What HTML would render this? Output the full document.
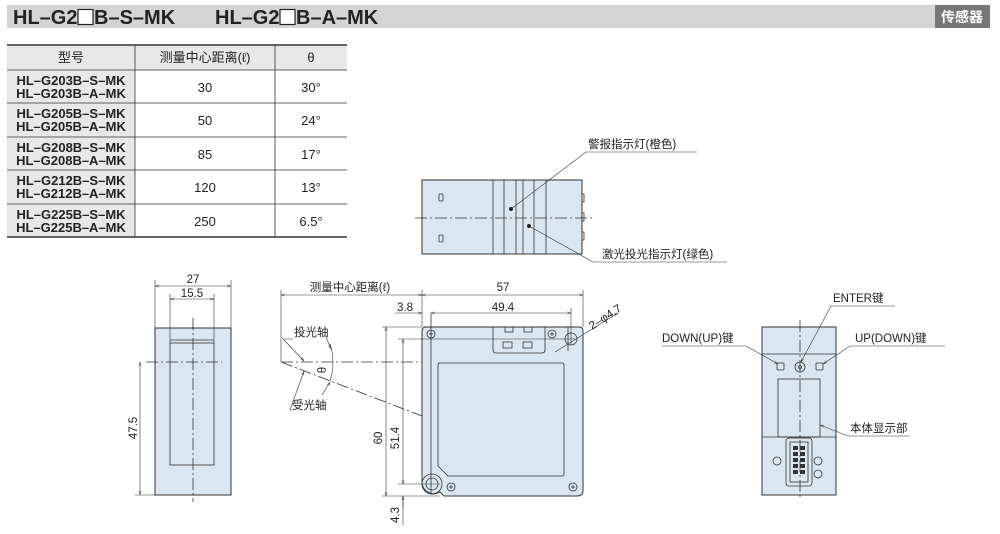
<!DOCTYPE html>
<html><head><meta charset="utf-8"><style>
body{margin:0;background:#fff;}
svg{display:block;font-family:"Liberation Sans","Noto Sans CJK SC",sans-serif;}
.t{font-size:11.5px;fill:#222;}
.b{fill:#dbe7f0;stroke:#333;stroke-width:1;}
.l{stroke:#333;stroke-width:0.8;fill:none;}
.d{stroke:#333;stroke-width:0.8;fill:none;stroke-dasharray:12 3 2 3;}
.dm{stroke:#333;stroke-width:0.6;fill:none;}
</style></head><body>
<svg width="1000" height="534" viewBox="0 0 1000 534" xmlns="http://www.w3.org/2000/svg">
<defs>
<marker id="a" viewBox="0 0 10 10" refX="10" refY="5" markerWidth="7" markerHeight="7" orient="auto-start-reverse"><path d="M0,2 L10,5 L0,8" fill="none" stroke="#333" stroke-width="1"/></marker>
</defs>
<!-- header -->
<rect x="7" y="5" width="928" height="23" fill="#d4d4d4"/>
<rect x="935" y="5" width="55" height="23" fill="#777"/>
<text x="13" y="24" font-size="20" font-weight="bold" fill="#222">HL–G2</text>
<rect x="78" y="9.5" width="15" height="15" fill="#fff" stroke="#222" stroke-width="1.2"/>
<text x="94" y="24" font-size="20" font-weight="bold" fill="#222">B–S–MK</text>
<text x="215" y="24" font-size="20" font-weight="bold" fill="#222">HL–G2</text>
<rect x="280" y="9.5" width="15" height="15" fill="#fff" stroke="#222" stroke-width="1.2"/>
<text x="296" y="24" font-size="20" font-weight="bold" fill="#222">B–A–MK</text>
<text x="962" y="22" font-size="14" font-weight="bold" fill="#fff" text-anchor="middle">传感器</text>
<!-- table -->
<rect x="7" y="45" width="340" height="25" fill="#e8e8e8"/>
<rect x="7" y="70" width="128" height="167" fill="#e8e8e8"/>
<g stroke="#333" stroke-width="0.8">
<line x1="135" y1="45" x2="135" y2="237"/><line x1="275" y1="45" x2="275" y2="237"/>
<line x1="7" y1="70" x2="347" y2="70"/><line x1="7" y1="103" x2="347" y2="103"/><line x1="7" y1="137" x2="347" y2="137"/><line x1="7" y1="170" x2="347" y2="170"/><line x1="7" y1="204" x2="347" y2="204"/>
</g>
<line x1="7" y1="45" x2="347" y2="45" stroke="#333" stroke-width="1.6"/>
<line x1="7" y1="237" x2="347" y2="237" stroke="#333" stroke-width="1.6"/>
<g font-size="13" fill="#222" text-anchor="middle">
<text x="71" y="62">型号</text><text x="205" y="62">测量中心距离(ℓ)</text><text x="311" y="62">θ</text>
<g font-weight="bold"><text x="71" y="85">HL–G203B–S–MK</text><text x="71" y="98">HL–G203B–A–MK</text>
<text x="71" y="118">HL–G205B–S–MK</text><text x="71" y="131">HL–G205B–A–MK</text>
<text x="71" y="152">HL–G208B–S–MK</text><text x="71" y="165">HL–G208B–A–MK</text>
<text x="71" y="185">HL–G212B–S–MK</text><text x="71" y="198">HL–G212B–A–MK</text>
<text x="71" y="219">HL–G225B–S–MK</text><text x="71" y="232">HL–G225B–A–MK</text></g>
<text x="205" y="92">30</text><text x="311" y="92">30°</text>
<text x="205" y="125">50</text><text x="311" y="125">24°</text>
<text x="205" y="159">85</text><text x="311" y="159">17°</text>
<text x="205" y="192">120</text><text x="311" y="192">13°</text>
<text x="205" y="226">250</text><text x="311" y="226">6.5°</text>
</g>
<!-- top view -->
<rect class="b" x="422" y="180" width="160" height="74"/>
<g class="l"><line x1="493" y1="180" x2="493" y2="254"/><line x1="504" y1="180" x2="504" y2="254"/><line x1="516" y1="180" x2="516" y2="254"/><line x1="523" y1="180" x2="523" y2="254"/><line x1="534" y1="180" x2="534" y2="254"/><line x1="546" y1="180" x2="546" y2="254"/>
<rect x="439" y="194" width="4" height="7" rx="1"/><rect x="439" y="235" width="4" height="7" rx="1"/>
<rect x="582" y="194" width="2" height="8"/><rect x="582" y="213" width="2" height="8"/><rect x="582" y="232" width="2" height="8"/></g>
<line class="d" x1="415" y1="218" x2="592" y2="218"/>
<circle cx="511" cy="209" r="2" fill="#222"/><circle cx="529" cy="226" r="2" fill="#222"/>
<polyline class="dm" points="511,209 586,152 697,152"/>
<polyline class="dm" points="529,226 593,262 727,262"/>
<text class="t" x="588" y="148">警报指示灯(橙色)</text>
<text class="t" x="602" y="258">激光投光指示灯(绿色)</text>
<!-- left view -->
<rect class="b" x="155" y="328" width="76" height="167"/>
<rect class="l" x="170" y="343" width="44" height="122"/>
<line class="l" x1="170" y1="340" x2="214" y2="340"/>
<line class="d" x1="193" y1="318" x2="193" y2="502"/>
<line class="d" x1="146" y1="362" x2="222" y2="362"/>
<g class="dm"><line x1="155" y1="280" x2="155" y2="328"/><line x1="231" y1="280" x2="231" y2="328"/><line x1="170" y1="294" x2="170" y2="343"/><line x1="214" y1="294" x2="214" y2="343"/><line x1="135" y1="495" x2="155" y2="495"/></g>
<line class="dm" x1="155" y1="286" x2="231" y2="286" marker-start="url(#a)" marker-end="url(#a)"/>
<line class="dm" x1="170" y1="299" x2="214" y2="299" marker-start="url(#a)" marker-end="url(#a)"/>
<line class="dm" x1="140" y1="362" x2="140" y2="495" marker-start="url(#a)" marker-end="url(#a)"/>
<text class="t" x="193" y="283" text-anchor="middle">27</text>
<text class="t" x="192" y="297" text-anchor="middle">15.5</text>
<text class="t" transform="translate(137,428) rotate(-90)" text-anchor="middle">47.5</text>
<!-- front view -->
<path class="b" d="M426,327 H579 Q583,327 583,331 V490 Q583,496 577,496 H444 L440,492 A12,12 0 0 1 422,484 V331 Q422,327 426,327 Z"/>
<path class="l" d="M493,327 V350 Q493,353 496,353 H542 Q545,353 545,350 V327"/>
<g class="l"><rect x="505" y="327" width="8" height="5"/><rect x="524" y="327" width="8" height="5"/><rect x="503" y="342" width="9" height="6"/><rect x="523" y="342" width="9" height="6"/>
<path d="M438,363 H562 Q564,363 564,365 V474 Q564,476 562,476 H448 L438,466 V365 Q438,363 440,363 Z"/>
<line x1="568" y1="327" x2="568" y2="351"/>
<circle cx="571" cy="339" r="6"/><circle cx="432" cy="484" r="6"/><circle cx="432" cy="484" r="10"/>
</g>
<g class="l"><circle cx="431" cy="334" r="4"/><circle cx="552" cy="334" r="4"/><circle cx="451" cy="487" r="4"/><circle cx="573" cy="487" r="4"/></g>
<g stroke="#333" stroke-width="0.8"><path d="M429,334h4M431,332v4M550,334h4M552,332v4M449,487h4M451,485v4M571,487h4M573,485v4"/></g>
<line class="l" x1="431" y1="313" x2="431" y2="493"/>
<g class="dm">
<line x1="281" y1="290" x2="281" y2="362"/><line x1="422" y1="290" x2="422" y2="327"/><line x1="583" y1="290" x2="583" y2="327"/><line x1="571" y1="308" x2="571" y2="345"/>
<line x1="382" y1="327" x2="422" y2="327"/><line x1="382" y1="496" x2="440" y2="496"/><line x1="398" y1="339" x2="575" y2="339"/><line x1="398" y1="484" x2="440" y2="484"/>
<line x1="403" y1="496" x2="403" y2="525"/>
</g>
<line class="dm" x1="281" y1="295" x2="422" y2="295" marker-start="url(#a)" marker-end="url(#a)"/>
<line class="dm" x1="422" y1="295" x2="583" y2="295" marker-start="url(#a)" marker-end="url(#a)"/>
<line class="dm" x1="395" y1="313" x2="422" y2="313" marker-end="url(#a)"/>
<line class="dm" x1="431" y1="313" x2="571" y2="313" marker-start="url(#a)" marker-end="url(#a)"/>
<line class="dm" x1="386" y1="327" x2="386" y2="496" marker-start="url(#a)" marker-end="url(#a)"/>
<line class="dm" x1="403" y1="339" x2="403" y2="484" marker-start="url(#a)" marker-end="url(#a)"/>
<line class="dm" x1="403" y1="508" x2="403" y2="496" marker-end="url(#a)"/>
<line class="dm" x1="555" y1="352" x2="618" y2="313" marker-end="url(#a)"/>
<text class="t" x="350" y="291" text-anchor="middle">测量中心距离(ℓ)</text>
<text class="t" x="503" y="291" text-anchor="middle">57</text>
<text class="t" x="405" y="311" text-anchor="middle">3.8</text>
<text class="t" x="503" y="311" text-anchor="middle">49.4</text>
<text class="t" transform="translate(382,438) rotate(-90)" text-anchor="middle">60</text>
<text class="t" transform="translate(399,438) rotate(-90)" text-anchor="middle">51.4</text>
<text class="t" transform="translate(399,515) rotate(-90)" text-anchor="middle">4.3</text>
<text class="t" transform="translate(592,330) rotate(-33)">2–φ4.7</text>
<line class="d" x1="281" y1="362" x2="422" y2="362"/>
<line class="d" x1="281" y1="362" x2="422" y2="416"/>
<path class="dm" d="M330,344 Q336,362 330,381"/>
<text class="t" transform="translate(326,370) rotate(-90)" font-size="10" text-anchor="middle">θ</text>
<polyline class="dm" points="293,339 283,339 304,361" marker-end="url(#a)"/>
<polyline class="dm" points="292,410 290,410 304,371" marker-end="url(#a)"/>
<line class="dm" x1="322" y1="395" x2="330" y2="382" marker-end="url(#a)"/>
<line class="dm" x1="326" y1="337" x2="331" y2="349" marker-end="url(#a)"/>
<text class="t" x="294" y="336">投光轴</text>
<text class="t" x="292" y="409">受光轴</text>
<!-- right view -->
<rect class="b" x="762" y="327" width="74" height="168"/>
<g class="l"><line x1="762" y1="354" x2="836" y2="354"/><line x1="762" y1="437" x2="836" y2="437"/>
<rect x="777" y="363" width="7" height="7" rx="1"/><circle cx="800" cy="367" r="5"/><circle cx="800" cy="367" r="1.5"/><rect x="816" y="363" width="7" height="7" rx="1"/>
<rect x="778" y="379" width="42" height="58"/>
<rect x="786" y="438" width="26" height="48" rx="3"/><rect x="790" y="442" width="18" height="40"/>
<circle cx="777" cy="461" r="4"/><circle cx="818" cy="461" r="4"/><circle cx="818" cy="474" r="4"/>
</g>
<g fill="#333"><rect x="793" y="446" width="5" height="4"/><rect x="800" y="446" width="5" height="4"/><rect x="793" y="452" width="5" height="4"/><rect x="800" y="452" width="5" height="4"/><rect x="793" y="458" width="5" height="4"/><rect x="800" y="458" width="5" height="4"/><rect x="793" y="464" width="5" height="4"/><rect x="800" y="464" width="5" height="4"/><rect x="793" y="470" width="5" height="4"/><rect x="800" y="470" width="5" height="4"/></g>
<line class="d" x1="800" y1="320" x2="800" y2="500"/>
<polyline class="dm" points="895,306 831,306 801,362" marker-end="url(#a)"/>
<polyline class="dm" points="662,346 746,346 778,364" marker-end="url(#a)"/>
<polyline class="dm" points="945,346 850,346 823,364" marker-end="url(#a)"/>
<polyline class="dm" points="910,436 848,436 820,425" marker-end="url(#a)"/>
<text class="t" x="833" y="302">ENTER键</text>
<text class="t" x="662" y="342">DOWN(UP)键</text>
<text class="t" x="855" y="342">UP(DOWN)键</text>
<text class="t" x="850" y="432">本体显示部</text>
</svg>
</body></html>
